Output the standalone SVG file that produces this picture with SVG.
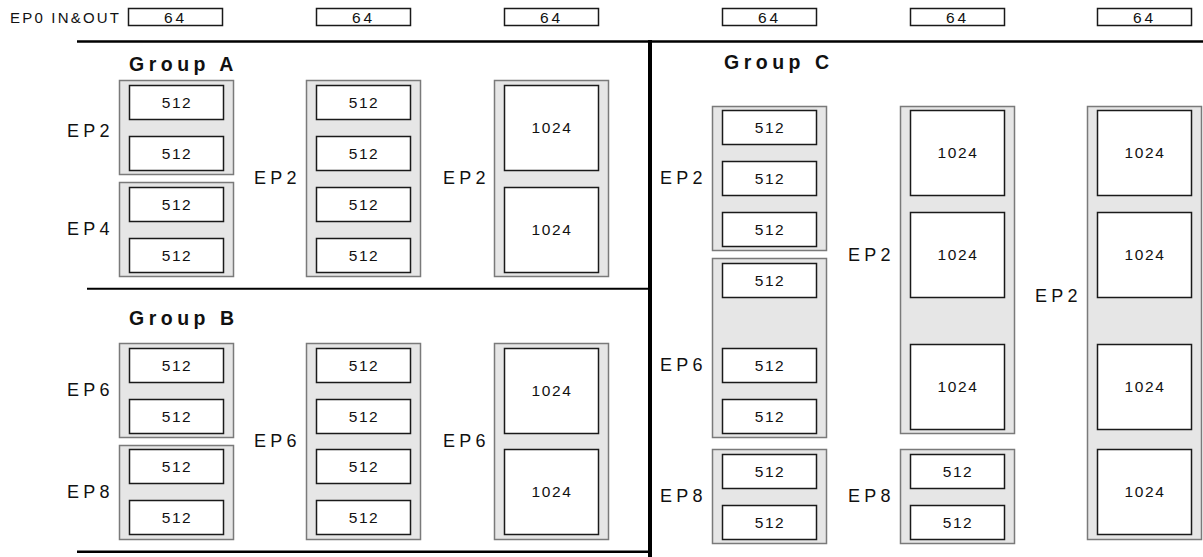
<svg xmlns="http://www.w3.org/2000/svg" width="1203" height="557" viewBox="0 0 1203 557">
<style>
.bg{fill:#ffffff}
.outer{fill:#e6e6e6;stroke:#7a7a7a;stroke-width:1.5}
.inner{fill:#ffffff;stroke:#1a1a1a;stroke-width:1.5}
.rule{stroke:#000;fill:none}
text{font-family:"Liberation Sans",Arial,sans-serif;fill:#111}
.num{font-size:15.5px;letter-spacing:1.6px;text-anchor:middle}
.n64{font-size:15.5px;letter-spacing:3px;text-anchor:middle}
.ep{font-size:18px;letter-spacing:4.3px}
.ep0{font-size:15px;letter-spacing:2.2px}
.grp{font-size:19.5px;font-weight:bold;letter-spacing:4.5px}
</style>
<rect class="bg" x="0" y="0" width="1203" height="557"/>

<g id="connectors">
  <line class="rule" x1="77" y1="41.5" x2="1203" y2="41.5" stroke-width="2.5"/>
  <line class="rule" x1="650" y1="40" x2="650" y2="557" stroke-width="4"/>
  <line class="rule" x1="87" y1="288.7" x2="650" y2="288.7" stroke-width="2"/>
  <line class="rule" x1="77" y1="551.7" x2="650" y2="551.7" stroke-width="2.5"/>
</g>

<g id="ep0">
  <text class="ep0" x="10" y="22.5">EP0 IN&amp;OUT</text>
  <rect class="inner" x="128.5" y="8.5" width="94" height="17"/><text class="n64" x="175.5" y="22.5">64</text>
  <rect class="inner" x="316.5" y="8.5" width="94" height="17"/><text class="n64" x="363.5" y="22.5">64</text>
  <rect class="inner" x="504.5" y="8.5" width="94" height="17"/><text class="n64" x="551.5" y="22.5">64</text>
  <rect class="inner" x="722.5" y="8.5" width="94" height="17"/><text class="n64" x="769.5" y="22.5">64</text>
  <rect class="inner" x="910.5" y="8.5" width="94" height="17"/><text class="n64" x="957.5" y="22.5">64</text>
  <rect class="inner" x="1097.5" y="8.5" width="94" height="17"/><text class="n64" x="1144.5" y="22.5">64</text>
</g>

<!-- Group A -->
<g id="groupA">
  <text class="grp" x="129" y="71">Group A</text>
  <g id="A-c1-ep2">
    <text class="ep" x="67" y="137">EP2</text>
    <rect class="outer" x="119.5" y="80.5" width="114" height="94"/>
    <rect class="inner" x="129.5" y="85.5" width="94" height="34"/><text class="num" x="177" y="108">512</text>
    <rect class="inner" x="129.5" y="136.5" width="94" height="34"/><text class="num" x="177" y="159">512</text>
  </g>
  <g id="A-c1-ep4">
    <text class="ep" x="67" y="235">EP4</text>
    <rect class="outer" x="119.5" y="182.5" width="114" height="94"/>
    <rect class="inner" x="129.5" y="187.5" width="94" height="34"/><text class="num" x="177" y="210">512</text>
    <rect class="inner" x="129.5" y="238.5" width="94" height="34"/><text class="num" x="177" y="261">512</text>
  </g>
  <g id="A-c2-ep2">
    <text class="ep" x="254" y="184">EP2</text>
    <rect class="outer" x="306.5" y="80.5" width="114" height="196"/>
    <rect class="inner" x="316.5" y="85.5" width="94" height="34"/><text class="num" x="364" y="108">512</text>
    <rect class="inner" x="316.5" y="136.5" width="94" height="34"/><text class="num" x="364" y="159">512</text>
    <rect class="inner" x="316.5" y="187.5" width="94" height="34"/><text class="num" x="364" y="210">512</text>
    <rect class="inner" x="316.5" y="238.5" width="94" height="34"/><text class="num" x="364" y="261">512</text>
  </g>
  <g id="A-c3-ep2">
    <text class="ep" x="443" y="184">EP2</text>
    <rect class="outer" x="494.5" y="80.5" width="114" height="196"/>
    <rect class="inner" x="504.5" y="85.5" width="94" height="85"/><text class="num" x="552" y="133">1024</text>
    <rect class="inner" x="504.5" y="187.5" width="94" height="85"/><text class="num" x="552" y="235">1024</text>
  </g>
</g>

<!-- Group B -->
<g id="groupB">
  <text class="grp" x="129" y="325">Group B</text>
  <g id="B-c1-ep6">
    <text class="ep" x="67" y="396">EP6</text>
    <rect class="outer" x="119.5" y="343.5" width="114" height="94"/>
    <rect class="inner" x="129.5" y="348.5" width="94" height="34"/><text class="num" x="177" y="371">512</text>
    <rect class="inner" x="129.5" y="399.5" width="94" height="34"/><text class="num" x="177" y="422">512</text>
  </g>
  <g id="B-c1-ep8">
    <text class="ep" x="67" y="498">EP8</text>
    <rect class="outer" x="119.5" y="445.5" width="114" height="94"/>
    <rect class="inner" x="129.5" y="449.5" width="94" height="34"/><text class="num" x="177" y="472">512</text>
    <rect class="inner" x="129.5" y="500.5" width="94" height="34"/><text class="num" x="177" y="523">512</text>
  </g>
  <g id="B-c2-ep6">
    <text class="ep" x="254" y="447">EP6</text>
    <rect class="outer" x="306.5" y="343.5" width="114" height="196"/>
    <rect class="inner" x="316.5" y="348.5" width="94" height="34"/><text class="num" x="364" y="371">512</text>
    <rect class="inner" x="316.5" y="399.5" width="94" height="34"/><text class="num" x="364" y="422">512</text>
    <rect class="inner" x="316.5" y="449.5" width="94" height="34"/><text class="num" x="364" y="472">512</text>
    <rect class="inner" x="316.5" y="500.5" width="94" height="34"/><text class="num" x="364" y="523">512</text>
  </g>
  <g id="B-c3-ep6">
    <text class="ep" x="443" y="447">EP6</text>
    <rect class="outer" x="494.5" y="343.5" width="114" height="196"/>
    <rect class="inner" x="504.5" y="348.5" width="94" height="85"/><text class="num" x="552" y="396">1024</text>
    <rect class="inner" x="504.5" y="449.5" width="94" height="85"/><text class="num" x="552" y="497">1024</text>
  </g>
</g>

<!-- Group C -->
<g id="groupC">
  <text class="grp" x="724" y="69">Group C</text>
  <g id="C-c1-ep2">
    <text class="ep" x="660" y="184">EP2</text>
    <rect class="outer" x="712.5" y="106.5" width="114" height="144"/>
    <rect class="inner" x="722.5" y="110.5" width="94" height="34"/><text class="num" x="770" y="133">512</text>
    <rect class="inner" x="722.5" y="161.5" width="94" height="34"/><text class="num" x="770" y="184">512</text>
    <rect class="inner" x="722.5" y="212.5" width="94" height="34"/><text class="num" x="770" y="235">512</text>
  </g>
  <g id="C-c1-ep6">
    <text class="ep" x="660" y="371">EP6</text>
    <rect class="outer" x="712.5" y="258.5" width="114" height="179"/>
    <rect class="inner" x="722.5" y="263.5" width="94" height="34"/><text class="num" x="770" y="286">512</text>
    <rect class="inner" x="722.5" y="348.5" width="94" height="34"/><text class="num" x="770" y="371">512</text>
    <rect class="inner" x="722.5" y="399.5" width="94" height="34"/><text class="num" x="770" y="422">512</text>
  </g>
  <g id="C-c1-ep8">
    <text class="ep" x="660" y="502">EP8</text>
    <rect class="outer" x="712.5" y="449.5" width="114" height="94"/>
    <rect class="inner" x="722.5" y="454.5" width="94" height="34"/><text class="num" x="770" y="477">512</text>
    <rect class="inner" x="722.5" y="505.5" width="94" height="34"/><text class="num" x="770" y="528">512</text>
  </g>
  <g id="C-c2-ep2">
    <text class="ep" x="848" y="261">EP2</text>
    <rect class="outer" x="900.5" y="106.5" width="114" height="327"/>
    <rect class="inner" x="910.5" y="110.5" width="94" height="85"/><text class="num" x="958" y="158">1024</text>
    <rect class="inner" x="910.5" y="212.5" width="94" height="85"/><text class="num" x="958" y="260">1024</text>
    <rect class="inner" x="910.5" y="344.5" width="94" height="85"/><text class="num" x="958" y="392">1024</text>
  </g>
  <g id="C-c2-ep8">
    <text class="ep" x="848" y="502">EP8</text>
    <rect class="outer" x="900.5" y="449.5" width="114" height="94"/>
    <rect class="inner" x="910.5" y="454.5" width="94" height="34"/><text class="num" x="958" y="477">512</text>
    <rect class="inner" x="910.5" y="505.5" width="94" height="34"/><text class="num" x="958" y="528">512</text>
  </g>
  <g id="C-c3-ep2">
    <text class="ep" x="1035" y="302">EP2</text>
    <rect class="outer" x="1087.5" y="106.5" width="114" height="433"/>
    <rect class="inner" x="1097.5" y="110.5" width="94" height="85"/><text class="num" x="1145" y="158">1024</text>
    <rect class="inner" x="1097.5" y="212.5" width="94" height="85"/><text class="num" x="1145" y="260">1024</text>
    <rect class="inner" x="1097.5" y="344.5" width="94" height="85"/><text class="num" x="1145" y="392">1024</text>
    <rect class="inner" x="1097.5" y="449.5" width="94" height="85"/><text class="num" x="1145" y="497">1024</text>
  </g>
</g>
</svg>
